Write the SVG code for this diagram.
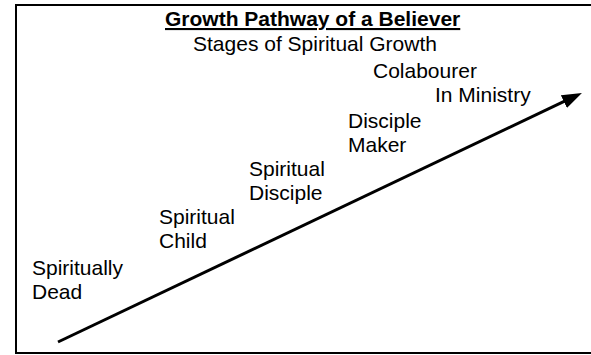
<svg xmlns="http://www.w3.org/2000/svg" width="591" height="355" viewBox="0 0 591 355">
  <style>
    text { font-family: "Liberation Sans", Arial, sans-serif; font-size: 21px; fill: #000; }
    .title { font-weight: bold; text-decoration: underline; }
    .frame { fill: #fff; stroke: #000; stroke-width: 2; }
    .conn { stroke: #000; stroke-width: 3; fill: none; }
  </style>
  <defs>
    <marker id="arrowhead" markerUnits="userSpaceOnUse" markerWidth="20" markerHeight="14" viewBox="0 0 20 14" refX="2" refY="7" orient="auto">
      <path d="M0,0 L20,7 L0,14 Z" fill="#000"/>
    </marker>
  </defs>
  <rect x="0" y="0" width="591" height="355" fill="#fff"/>
  <rect class="frame" x="16" y="5" width="590" height="348"/>
  <g id="header">
    <text class="title" x="165" y="26">Growth Pathway of a Believer</text>
    <text x="193" y="51">Stages of Spiritual Growth</text>
  </g>
  <g id="connectors">
    <line class="conn" x1="58" y1="342" x2="565.7" y2="100.7" marker-end="url(#arrowhead)"/>
  </g>
  <g id="stage-dead">
    <text x="32" y="275">Spiritually</text>
    <text x="32" y="299">Dead</text>
  </g>
  <g id="stage-child">
    <text x="159" y="224">Spiritual</text>
    <text x="159" y="248">Child</text>
  </g>
  <g id="stage-disciple">
    <text x="249" y="176">Spiritual</text>
    <text x="249" y="200">Disciple</text>
  </g>
  <g id="stage-maker">
    <text x="348" y="128">Disciple</text>
    <text x="348" y="152">Maker</text>
  </g>
  <g id="stage-colabourer">
    <text x="373" y="78">Colabourer</text>
    <text x="435" y="102">In Ministry</text>
  </g>
</svg>
